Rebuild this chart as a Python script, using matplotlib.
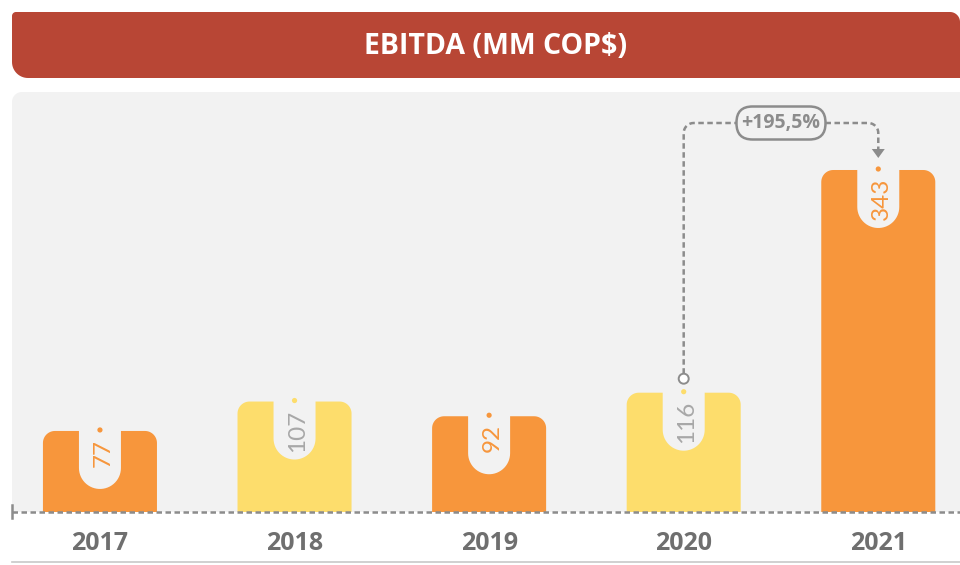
import numpy as np
import matplotlib
matplotlib.use("Agg")
import matplotlib.pyplot as plt
from matplotlib.patches import Polygon, Circle, FancyBboxPatch
from matplotlib.transforms import IdentityTransform

# ---------------- data ----------------
years = ["2017", "2018", "2019", "2020", "2021"]
ebitda = [77, 107, 92, 116, 343]
bar_colors = ["#F7963C", "#FDDD6C", "#F7963C", "#FDDD6C", "#F7963C"]
label_colors = ["#F7963C", "#A8A8A8", "#F7963C", "#A8A8A8", "#F7963C"]
title = "EBITDA (MM COP$)"
growth_label = "+195,5%"

# ---------------- styling ----------------
W, H = 960, 565
BANNER = "#B84635"
PANEL = "#F2F2F2"
GREY = "#8C8C8C"
YEAR_GREY = "#6F6F6F"

fig = plt.figure(figsize=(W / 100, H / 100), dpi=100)
fig.patch.set_facecolor("white")
ID = IdentityTransform()


def arc(cx, cy, r, a0, a1, n=16):
    if r == 0:
        return [(cx, cy)]
    t = np.linspace(a0, a1, n)
    return list(zip(cx + r * np.cos(t), cy + r * np.sin(t)))


def rounded(x0, y0, x1, y1, tl=0, tr=0, br=0, bl=0):
    """display coords (y up)"""
    pts = []
    pts += arc(x0 + bl, y0 + bl, bl, np.pi, 1.5 * np.pi)
    pts += arc(x1 - br, y0 + br, br, 1.5 * np.pi, 2 * np.pi)
    pts += arc(x1 - tr, y1 - tr, tr, 0, 0.5 * np.pi)
    pts += arc(x0 + tl, y1 - tl, tl, 0.5 * np.pi, np.pi)
    return pts


def D(y):  # top-based pixel -> display y
    return H - y


# banner
fig.patches.append(Polygon(rounded(12, D(78), 960, D(12), tl=4, tr=10, br=0, bl=16),
                           closed=True, facecolor=BANNER, edgecolor="none",
                           transform=ID, figure=fig, zorder=-5))
fig.text(0.516, 1 - 46 / H, title, ha="center", va="center", color="white",
         fontsize=20.5, fontweight="bold", family=["Open Sans", "DejaVu Sans"])

# panel
fig.patches.append(Polygon(rounded(12, D(512), 965, D(92), tl=10),
                           closed=True, facecolor=PANEL, edgecolor="none",
                           transform=ID, figure=fig, zorder=-10))
# bottom rule
fig.lines.append(plt.Line2D([12, 960], [D(562), D(562)], color="#C8C8C8", lw=1.2,
                            transform=ID, figure=fig))

# ---------------- axes ----------------
ax = fig.add_axes([12 / W, 1 - 512 / H, (960 - 12) / W, (512 - 92) / H])
ax.set_facecolor("none")
for s in ax.spines.values():
    s.set_visible(False)
ax.set_xlim(-0.452, 4.42)
ax.set_ylim(-5.6, 422.5)
ax.set_yticks([])

x = np.arange(len(years))
bars = ax.bar(x, ebitda, width=0.586, color=bar_colors)

ax.set_xticks(x, years)
ax.tick_params(axis="x", length=0, pad=14)
for t in ax.get_xticklabels():
    t.set_fontsize(18)
    t.set_fontweight("bold")
    t.set_color(YEAR_GREY)
    t.set_family(["Open Sans", "DejaVu Sans"])

base_y = ax.transAxes.transform((0, 0))[1]
NOTCH_HW = 21
NOTCH_STRAIGHT = 37
tops = []
for i, b in enumerate(bars):
    (x0, _), (x1, y1) = ax.transData.transform([(b.get_x(), 0), (b.get_x() + b.get_width(), b.get_height())])
    b.set_visible(False)
    cx = (x0 + x1) / 2
    tops.append((cx, y1))
    ax.add_patch(Polygon(rounded(x0, base_y, x1, y1, tl=12, tr=12), closed=True,
                         facecolor=bar_colors[i], edgecolor="none", transform=ID,
                         clip_on=False, zorder=2))
    notch = [(cx - NOTCH_HW, y1 + 1), (cx - NOTCH_HW, y1 - NOTCH_STRAIGHT)]
    notch += arc(cx, y1 - NOTCH_STRAIGHT, NOTCH_HW, np.pi, 2 * np.pi, n=30)
    notch += [(cx + NOTCH_HW, y1 + 1)]
    ax.add_patch(Polygon(notch, closed=True, facecolor=PANEL, edgecolor="none",
                         transform=ID, clip_on=False, zorder=3))
    ax.add_patch(Circle((cx, y1 + 1), 2.6, facecolor=bar_colors[i], edgecolor="none",
                        transform=ID, clip_on=False, zorder=4))
    ax.annotate(str(ebitda[i]), xy=(x[i], ebitda[i]), xytext=(3, -8),
                textcoords="offset pixels", rotation=90, ha="center", va="top",
                fontsize=17.5, color=label_colors[i], fontweight="normal",
                family=["Lato", "DejaVu Sans"], zorder=5)

# baseline dashed + left tick
ax.plot([0, 1], [0, 0], transform=ax.transAxes, color=GREY, lw=1.8,
        linestyle=(0, (2.2, 1.4)), clip_on=False, zorder=6)
fig.lines.append(plt.Line2D([12, 12], [D(518), D(505)], color=GREY, lw=1.8,
                            transform=ID, figure=fig))

# ---------------- growth annotation ----------------
(sx, sy), (ex, ey) = tops[3], tops[4]
circ_y = sy + 14
line_y = ey + 47
r = 10
mid = (sx + ex) / 2
pill_w, pill_h = 89, 33
tip_y = ey + 12
dash = dict(color=GREY, lw=1.8, linestyle=(0, (2.2, 1.4)), transform=ID, clip_on=False, zorder=6)

left = [(sx, circ_y + 5), (sx, line_y - r)] + arc(sx + r, line_y - r, r, np.pi, 0.5 * np.pi, n=10) + [(mid - pill_w / 2, line_y)]
lx, ly = zip(*left)
ax.plot(lx, ly, **dash)
right = [(mid + pill_w / 2, line_y), (ex - r, line_y)] + arc(ex - r, line_y - r, r, 0.5 * np.pi, 0, n=10) + [(ex, tip_y + 9)]
rx, ry = zip(*right)
ax.plot(rx, ry, **dash)
ax.add_patch(Polygon([(ex - 6.5, tip_y + 9), (ex + 6.5, tip_y + 9), (ex, tip_y)], closed=True,
                     facecolor=GREY, edgecolor="none", transform=ID, clip_on=False, zorder=6))
ax.add_patch(Circle((sx, circ_y), 5, facecolor="white", edgecolor=GREY, lw=1.4,
                    transform=ID, clip_on=False, zorder=7))
ax.add_patch(FancyBboxPatch((mid - pill_w / 2, line_y - pill_h / 2), pill_w, pill_h,
                            boxstyle="round,pad=0,rounding_size=16", facecolor=PANEL,
                            edgecolor=GREY, lw=1.8, transform=ID, clip_on=False, zorder=7))
ax.text(mid, line_y, growth_label, transform=ID, ha="center", va="center",
        fontsize=14, fontweight="bold", color=GREY,
        family=["Open Sans", "DejaVu Sans"], zorder=8)

fig.savefig("out.png", dpi=100)
